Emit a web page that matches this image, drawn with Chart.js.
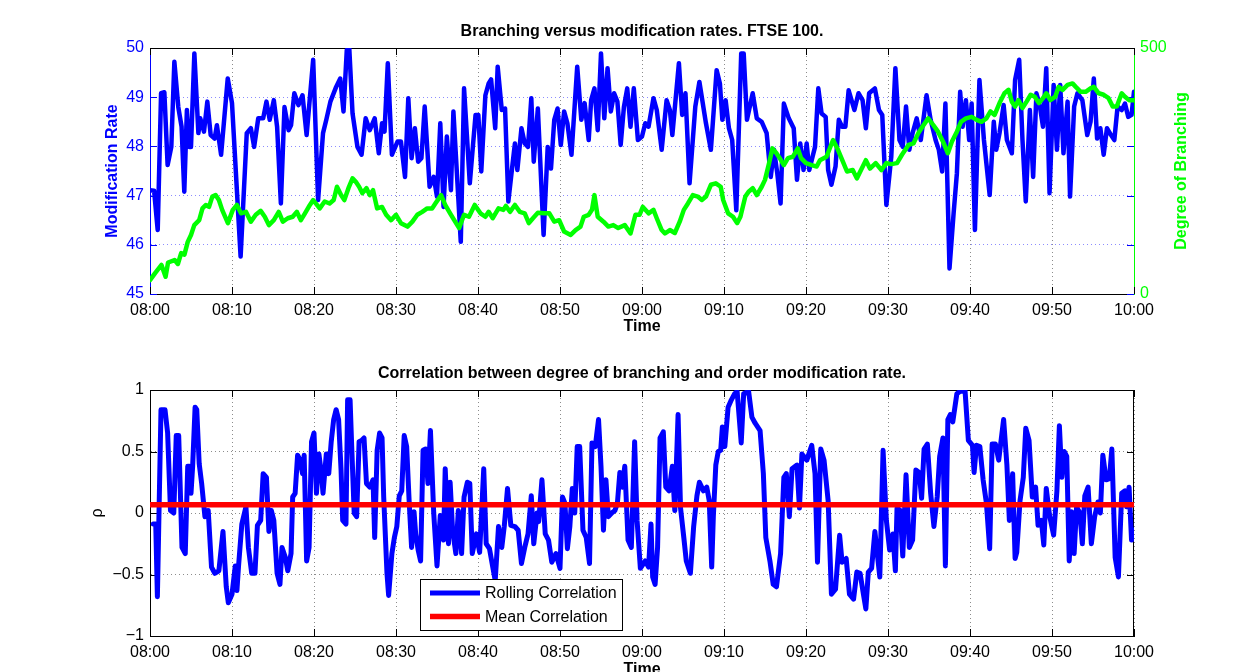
<!DOCTYPE html>
<html><head><meta charset="utf-8">
<script src="https://cdn.jsdelivr.net/npm/chart.js@4/dist/chart.umd.min.js"></script>
<style>
html,body{margin:0;padding:0;background:#fff;overflow:hidden;width:1234px;height:672px;position:relative}
#c1{position:absolute;left:0;top:0}
#c2{position:absolute;left:0;top:336px}
</style></head><body>
<canvas id="c1" width="1234" height="336"></canvas>
<canvas id="c2" width="1234" height="346"></canvas>
<script>
// ---------- DATA ----------
const xTickLabels = ['08:00','08:10','08:20','08:30','08:40','08:50','09:00','09:10','09:20','09:30','09:40','09:50','10:00'];

// Modification rate (minutes after 08:00, value)
const modT = [0,0.5,0.94,1.35,1.75,2.15,2.6,2.97,3.45,3.85,
 4.18,4.5,4.76,5.0,5.41,5.9,6.13,6.58,6.99,7.4,
 7.88,8.16,8.67,9.48,10.0,11.05,11.8,12.3,12.7,13.2,
 13.8,14.2,14.6,15.1,15.5,15.96,16.4,16.9,17.2,17.6,
 18.1,18.6,19.1,19.9,20.5,21.1,21.5,22.0,22.7,23.2,
 23.6,24.0,24.3,24.7,25.3,25.8,26.3,26.8,27.4,27.9,
 28.3,28.6,29.0,29.5,30.2,30.6,31.1,31.5,31.9,32.3,
 32.7,33.1,33.5,34.1,34.6,35.0,35.4,35.8,36.2,36.7,
 37.0,37.9,38.3,39.0,39.7,40.04,40.4,40.9,41.3,41.6,
 42.1,42.4,42.9,43.3,43.7,44.2,44.5,44.8,45.3,45.7,
 46.1,46.5,46.8,47.3,48.0,48.5,48.9,49.3,49.7,50.1,
 50.5,50.9,51.4,52.1,52.6,53.0,53.5,53.8,54.2,54.6,
 55.0,55.4,55.8,56.2,56.6,57.0,57.4,57.8,58.2,58.6,
 59.0,59.5,60.0,60.4,60.8,61.4,61.8,62.4,63.0,63.4,
 63.7,64.5,64.9,65.3,65.8,66.5,67.0,67.8,68.4,69.1,
 69.5,69.8,70.2,70.6,71.0,71.5,72.1,72.4,72.8,73.5,
 74.0,74.6,75.2,75.7,76.1,76.5,76.9,77.3,77.9,78.5,
 78.9,79.3,79.7,80.08,80.4,80.8,81.1,81.5,81.9,82.4,
 82.7,83.1,83.6,84.0,84.4,84.8,85.2,85.9,86.4,86.9,
 87.3,87.7,88.4,88.9,89.3,89.8,90.4,90.9,91.4,91.8,
 92.2,92.6,93.0,93.5,94.0,94.7,95.2,95.8,96.2,96.6,
 97.0,97.5,98.0,98.4,98.8,99.1,99.5,99.9,100.2,100.6,
 101.15,101.7,102.4,102.9,103.2,103.6,104.1,104.5,105.1,105.5,
 106.0,106.4,106.8,107.3,107.7,108.1,108.5,108.9,109.3,109.7,
 110.2,110.6,111.0,111.4,111.9,112.2,112.7,113.1,113.7,114.3,
 114.7,115.1,115.5,115.9,116.3,116.7,117.2,117.6,118.0,118.5,
 118.9,119.3,119.7,120.0];
const modV = [47.11,47.1,46.3,49.08,49.1,47.62,47.99,49.72,48.8,48.4,
 47.08,48.74,47.99,47.99,49.89,48.27,48.57,48.3,48.91,48.23,
 48.16,48.43,47.83,49.38,48.88,45.76,48.27,48.37,47.99,48.57,
 48.57,48.91,48.54,48.94,48.4,46.84,48.8,48.33,48.43,49.08,
 48.84,49.04,48.23,49.76,46.91,48.27,48.54,48.91,49.21,49.38,
 48.71,49.96,50.0,48.67,47.99,47.83,48.57,48.33,48.57,47.86,
 48.47,48.3,49.69,47.83,48.1,48.1,47.38,48.98,47.76,48.37,
 47.69,47.76,48.81,47.18,47.38,46.98,48.47,46.77,48.2,47.11,
 48.71,46.06,49.18,47.25,48.64,48.64,47.49,49.04,49.28,49.36,
 48.37,49.62,48.74,48.77,46.88,47.62,48.06,47.52,48.37,48.06,
 47.99,48.98,47.69,48.77,46.2,47.99,47.55,48.54,48.77,48.03,
 48.71,48.47,47.83,49.62,48.54,48.88,48.13,48.94,49.18,48.33,
 49.89,48.57,49.59,48.71,49.08,48.91,48.03,48.81,49.18,48.4,
 49.18,48.13,48.2,48.47,48.4,48.98,48.74,47.93,48.94,48.74,
 48.23,49.69,48.64,49.08,47.25,48.81,49.31,48.47,47.93,49.55,
 49.28,48.54,48.94,48.37,48.13,46.7,49.89,49.89,48.54,49.08,
 48.57,48.5,48.27,47.38,47.93,47.45,46.84,48.87,48.57,48.37,
 47.32,48.06,47.52,48.06,47.52,47.79,47.99,49.18,48.67,48.6,
 47.52,47.22,47.59,48.54,48.4,48.4,49.14,48.74,49.08,48.94,
 48.37,49.08,49.18,48.74,48.64,46.81,47.79,49.59,48.13,47.99,
 48.81,47.93,48.27,48.57,48.13,49.04,48.54,48.13,47.93,47.49,
 48.87,45.52,46.64,47.45,49.11,48.4,48.94,48.13,48.87,46.3,
 49.35,48.13,47.01,48.5,47.93,48.27,48.84,48.13,47.86,49.35,
 49.76,48.13,46.88,48.74,47.38,49.08,48.84,48.4,49.59,47.05,
 49.25,47.93,49.25,47.86,48.91,46.98,48.81,49.08,48.94,48.23,
 48.5,49.38,48.16,48.37,47.83,48.37,48.23,48.13,48.81,48.74,
 48.87,48.6,48.64,49.11];

// Degree of branching (minutes after 08:00, value)
const brT = [0,0.6,1.4,1.9,2.2,3.0,3.4,3.8,4.2,4.6,
 5.0,5.4,6.0,6.4,6.8,7.2,7.6,8.0,8.4,8.8,
 9.5,10.1,10.6,11.1,11.7,12.3,12.9,13.5,14.0,14.5,
 15.1,15.7,16.2,16.8,17.4,17.9,18.4,18.9,19.5,19.9,
 20.7,21.3,21.9,22.4,22.8,23.3,23.7,24.2,24.7,25.1,
 25.5,25.9,26.4,26.8,27.2,27.7,28.3,28.8,29.4,30.0,
 30.6,31.4,32.0,32.6,33.2,33.8,34.4,34.8,35.5,36.0,
 36.6,37.1,37.7,38.3,38.9,39.6,40.3,40.9,41.3,41.8,
 42.5,43.1,43.4,43.9,44.5,45.1,45.7,46.2,46.7,47.3,
 48.1,48.7,49.3,49.9,50.5,51.3,51.9,52.5,52.9,53.5,
 53.9,54.2,54.6,55.3,55.9,56.5,57.1,57.9,58.6,59.2,
 59.7,60.1,60.8,61.4,61.8,62.4,62.8,63.4,64.0,64.6,
 65.1,65.6,66.2,66.8,67.3,67.8,68.4,69.0,69.6,69.9,
 70.5,71.1,71.6,72.0,72.6,73.0,73.5,74.0,74.6,75.0,
 75.5,75.9,76.4,76.8,77.3,77.8,78.4,79.0,79.4,80.0,
 80.7,81.3,81.7,82.5,83.3,83.9,84.5,85.0,85.7,86.2,
 86.8,87.3,87.8,88.5,89.2,89.8,90.4,91.1,91.7,92.5,
 93.1,93.7,94.2,94.9,95.5,96.1,96.7,97.3,97.8,98.4,
 98.9,99.5,100.2,100.8,101.4,102.0,102.5,103.0,103.6,104.2,
 104.7,105.1,105.5,105.9,106.4,106.9,107.4,107.9,108.4,108.9,
 109.3,109.8,110.4,110.8,111.3,111.9,112.5,112.9,113.5,114.1,
 114.7,115.1,115.7,116.3,116.9,117.4,117.9,118.5,118.9,119.4,
 120.0];
const brV = [28,42,59,35,64,69,61,83,80,106,
 120,140,150,174,181,177,198,201,191,171,
 144,171,181,164,167,147,161,169,157,140,
 150,167,147,154,157,167,150,164,181,191,
 174,188,184,191,218,201,191,215,235,228,
 218,205,215,201,211,174,177,161,150,161,
 144,137,147,161,167,174,174,184,201,181,
 164,150,134,161,157,181,164,157,167,154,
 174,171,179,167,181,167,164,144,154,165,
 164,164,147,150,127,120,130,137,157,161,
 171,201,157,147,137,140,134,140,123,161,
 161,177,164,171,154,130,123,130,124,147,
 171,184,201,198,191,198,222,225,218,191,
 164,157,144,157,198,208,215,201,218,232,
 266,296,286,276,262,276,279,296,276,266,
 262,259,272,279,313,293,269,249,252,235,
 255,272,255,266,252,266,264,266,283,303,
 306,327,340,357,344,330,310,286,310,330,
 350,357,360,354,350,357,371,364,388,408,
 415,391,381,394,378,391,405,401,388,398,
 408,394,401,421,415,425,428,421,411,411,
 418,421,408,405,398,381,381,408,401,394,
 394];

// Rolling correlation (minutes after 08:00, rho)
const corrT = [0.4,0.7,0.9,1.34,1.83,2.15,2.5,2.9,3.2,3.5,
 3.9,4.3,4.6,4.8,5.0,5.2,5.5,5.7,6.0,6.3,
 6.7,7.1,7.5,7.9,8.4,8.9,9.3,9.55,10.0,10.4,
 10.6,10.8,11.2,11.7,12.0,12.4,12.8,13.1,13.5,13.8,
 14.2,14.5,14.8,15.1,15.5,15.85,16.1,16.5,16.8,17.2,
 17.4,17.7,18.0,18.3,18.6,18.8,19.1,19.4,19.7,20.0,
 20.3,20.6,20.9,21.1,21.5,21.8,22.1,22.4,22.7,23.0,
 23.3,23.5,23.9,24.1,24.4,24.6,24.9,25.2,25.5,25.8,
 26.1,26.4,26.8,27.2,27.4,27.7,28.0,28.3,28.5,28.9,
 29.1,29.5,29.8,30.1,30.4,30.7,31.0,31.3,31.6,31.9,
 32.2,32.4,32.7,33.0,33.3,33.6,33.9,34.2,34.6,35.0,
 35.4,35.8,36.0,36.4,36.6,36.9,37.3,37.6,38.0,38.3,
 38.7,39.0,39.3,39.8,40.2,40.7,41.0,41.4,41.8,42.1,
 42.5,42.9,43.2,43.6,44.0,44.5,44.9,45.3,45.7,46.1,
 46.5,46.8,47.2,47.4,47.8,48.2,48.6,49.0,49.5,50.0,
 50.3,50.6,50.9,51.2,51.5,51.8,52.1,52.4,52.8,53.2,
 53.6,53.9,54.3,54.7,55.0,55.3,55.6,55.9,56.3,56.7,
 57.0,57.3,57.6,57.9,58.3,58.7,59.1,59.4,59.8,60.4,
 60.8,61.1,61.3,61.6,61.9,62.2,62.6,62.9,63.3,63.7,
 64.0,64.4,64.7,65.1,65.4,65.9,66.3,66.7,67.0,67.5,
 67.9,68.2,68.5,68.7,69.0,69.3,69.6,69.8,70.1,70.5,
 70.9,71.3,71.6,72.1,72.4,73.0,73.4,73.8,74.4,74.8,
 75.1,75.6,76.0,76.4,76.9,77.3,77.6,77.97,78.3,78.9,
 79.2,79.5,80.1,80.7,81.1,81.4,81.8,82.2,82.7,83.1,
 83.6,84.1,84.4,84.9,85.3,85.8,86.2,86.6,87.0,87.3,
 87.6,88.0,88.4,89.0,89.4,89.8,90.2,90.6,90.9,91.1,
 91.5,91.8,92.2,92.6,93.0,93.4,93.8,94.1,94.4,94.8,
 95.2,95.6,96.0,96.3,96.7,97.0,97.3,97.6,97.9,98.4,
 98.8,99.4,99.8,100.3,100.5,100.8,101.2,101.6,102.0,102.4,
 102.7,103.1,103.5,104.1,104.5,104.8,105.2,105.5,105.7,106.1,
 106.5,106.8,107.2,107.6,108.0,108.3,108.7,109.0,109.3,109.7,
 110.2,110.6,110.9,111.2,111.5,111.8,112.1,112.4,112.7,113.0,
 113.4,113.7,114.0,114.4,114.8,115.2,115.6,115.9,116.2,116.6,
 117.0,117.3,117.7,118.1,118.5,118.9,119.1,119.4,119.7,120.0];
const corrV = [-0.09,-0.09,-0.68,0.84,0.84,0.65,0.02,0.0,0.63,0.63,
 -0.28,-0.33,0.38,0.38,0.16,0.38,0.86,0.84,0.40,0.24,
 -0.03,0.02,-0.44,-0.49,-0.47,-0.15,-0.60,-0.73,-0.66,-0.43,
 -0.63,-0.43,-0.09,0.05,-0.28,-0.49,-0.49,-0.10,-0.06,0.32,
 0.29,-0.15,0.02,-0.06,-0.49,-0.58,-0.28,-0.36,-0.47,-0.33,
 0.13,0.16,0.47,0.43,0.32,0.47,-0.39,-0.28,0.58,0.65,
 0.16,0.48,0.32,0.16,0.48,0.32,0.58,0.76,0.84,0.76,
 0.35,-0.06,-0.09,0.92,0.92,0.54,0.0,-0.03,0.58,0.59,
 0.61,0.24,0.21,0.27,-0.20,0.51,0.65,0.61,0.13,-0.49,
 -0.67,-0.33,-0.20,-0.11,0.14,0.18,0.63,0.54,0.10,-0.28,
 0.01,-0.17,-0.30,-0.39,0.51,0.52,0.24,0.67,0.0,-0.43,
 -0.02,-0.22,0.36,-0.25,0.25,-0.14,-0.33,0.02,-0.33,0.13,
 0.25,0.24,-0.33,-0.17,-0.32,0.36,-0.25,-0.29,-0.44,-0.55,
 -0.11,-0.28,-0.11,0.20,-0.10,-0.11,-0.14,-0.41,-0.28,-0.17,
 0.14,-0.25,0.0,-0.07,0.27,-0.17,-0.22,-0.40,-0.33,-0.45,
 0.13,0.08,-0.29,-0.11,0.20,0.0,0.54,0.54,-0.14,-0.20,
 -0.41,0.57,0.54,0.76,0.38,-0.14,0.27,-0.03,0.0,0.02,
 0.08,0.33,0.21,0.38,-0.22,-0.28,0.58,-0.06,-0.45,-0.39,
 -0.44,-0.09,-0.52,-0.58,-0.28,0.61,0.66,0.21,0.18,0.38,
 0.02,0.80,0.04,-0.20,-0.39,-0.49,-0.11,0.14,0.25,0.18,
 0.21,0.10,-0.44,-0.03,0.39,0.50,0.51,0.70,0.54,0.86,
 0.92,0.97,0.99,0.57,0.97,0.99,0.78,0.73,0.67,0.32,
 -0.20,-0.39,-0.58,-0.60,-0.33,0.29,0.32,-0.03,0.36,0.39,
 0.04,0.48,0.43,0.55,0.32,-0.40,0.52,0.43,0.10,-0.66,
 -0.62,-0.18,-0.40,-0.37,-0.66,-0.70,-0.48,-0.49,-0.66,-0.78,
 -0.48,-0.45,-0.15,-0.52,0.51,-0.06,-0.30,-0.17,-0.47,0.04,
 0.02,-0.35,0.31,-0.28,-0.22,0.35,0.33,0.12,0.52,0.56,
 0.16,-0.11,0.13,0.46,0.61,-0.43,0.76,0.80,0.74,0.97,
 0.99,0.99,0.59,0.55,0.33,0.55,0.54,0.27,0.08,-0.29,
 0.56,0.56,0.43,0.76,0.39,-0.06,0.32,-0.37,-0.32,0.10,
 0.29,0.69,0.59,0.13,0.21,-0.10,-0.06,-0.26,0.20,-0.02,
 -0.18,0.18,0.71,0.29,0.50,0.46,-0.39,0.01,-0.33,0.05,
 0.0,-0.25,0.14,0.21,-0.25,-0.03,0.09,0.0,0.47,0.27,
 0.28,0.52,-0.36,-0.52,0.16,0.18,0.05,0.21,-0.22,-0.14];

const meanCorrT = [0, 120];
const meanCorrV = [0.068, 0.068];

// ---------- RENDER ----------
const FONT = "'Liberation Sans', Arial, Helvetica, sans-serif";
Chart.defaults.font.family = FONT;
Chart.defaults.font.size = 16;
Chart.defaults.color = '#000';
const pts = (t, v) => t.map((x, i) => ({x: x, y: v[i]}));
const BLUE = '#0000ff', GREEN = '#00ff00', RED = '#ff0000';
const timeLabel = v => xTickLabels[Math.round(v / 10)];

const boxPlugin = {
  id: 'box',
  beforeDatasetsDraw(chart, args, o) {
    const {ctx, chartArea: a} = chart;
    ctx.save();
    ctx.lineWidth = 1;
    (o.ticks || []).forEach(sp => {
      const s = chart.scales[sp.id];
      ctx.strokeStyle = sp.color;
      ctx.beginPath();
      s.ticks.forEach(t => {
        const p = Math.round(s.getPixelForValue(t.value)) + 0.5;
        if (s.isHorizontal()) {
          ctx.moveTo(p, a.bottom); ctx.lineTo(p, a.bottom - sp.len);
          ctx.moveTo(p, a.top); ctx.lineTo(p, a.top + sp.len);
        } else {
          ctx.moveTo(a.left, p); ctx.lineTo(a.left + sp.len, p);
          ctx.moveTo(a.right, p); ctx.lineTo(a.right - sp.len, p);
        }
      });
      ctx.stroke();
    });
    (o.edges || []).forEach(e => {
      ctx.strokeStyle = e.color;
      ctx.beginPath();
      if (e.side === 'top') { const y = Math.round(a.top) + 0.5; ctx.moveTo(a.left, y); ctx.lineTo(a.right, y); }
      if (e.side === 'right') { const x = Math.round(a.right) - 0.5; ctx.moveTo(x, a.top); ctx.lineTo(x, a.bottom); }
      ctx.stroke();
    });
    ctx.restore();
  }
};

const sideTitlePlugin = {
  id: 'sideTitle',
  afterDraw(chart, args, o) {
    if (!o.text) return;
    const {ctx, chartArea: a} = chart;
    ctx.save();
    ctx.translate(o.x, (a.top + a.bottom) / 2);
    ctx.rotate(-Math.PI / 2);
    ctx.font = 'bold 16px ' + FONT;
    ctx.fillStyle = o.color;
    ctx.textAlign = 'center';
    ctx.textBaseline = 'middle';
    ctx.fillText(o.text, 0, 0);
    ctx.restore();
  }
};

const boxLegendPlugin = {
  id: 'boxLegend',
  afterDraw(chart, args, o) {
    if (!o.box) return;
    const {ctx} = chart;
    const b = o.box;
    ctx.save();
    ctx.fillStyle = '#fff';
    ctx.fillRect(b.x, b.y, b.w, b.h);
    ctx.strokeStyle = '#000';
    ctx.lineWidth = 1;
    ctx.strokeRect(b.x + 0.5, b.y + 0.5, b.w, b.h);
    ctx.font = '16px ' + FONT;
    ctx.textBaseline = 'middle';
    ctx.textAlign = 'left';
    chart.data.datasets.forEach((ds, i) => {
      const y = b.y + b.rowTop + i * b.rowGap;
      ctx.strokeStyle = ds.borderColor;
      ctx.lineWidth = ds.borderWidth;
      ctx.beginPath();
      ctx.moveTo(b.x + 10, y); ctx.lineTo(b.x + 60, y);
      ctx.stroke();
      ctx.fillStyle = '#000';
      ctx.fillText(ds.label, b.x + 65, y + 1);
    });
    ctx.restore();
  }
};

const xAxis = (h, titlePadBottom) => ({
  type: 'linear', position: 'bottom', min: 0, max: 120,
  afterFit(s) { s.height = h; },
  ticks: {stepSize: 10, autoSkip: false, maxRotation: 0, padding: 6.5, color: '#000', font: {size: 16}, callback: timeLabel},
  grid: {color: 'rgba(0,0,0,0.45)', lineWidth: 1, drawTicks: false},
  border: {color: '#000', width: 1, dash: [1, 3]},
  title: {display: true, text: 'Time', color: '#000', font: {size: 16, weight: 'bold'}, padding: {top: 0, bottom: titlePadBottom}}
});

new Chart(document.getElementById('c1'), {
  type: 'line',
  data: {datasets: [
    {label: 'Modification Rate', data: pts(modT, modV), yAxisID: 'y', borderColor: BLUE, borderWidth: 4.5,
     pointRadius: 0, tension: 0, borderJoinStyle: 'round', borderCapStyle: 'round', order: 1},
    {label: 'Degree of Branching', data: pts(brT, brV), yAxisID: 'y1', borderColor: GREEN, borderWidth: 4.5,
     pointRadius: 0, tension: 0, borderJoinStyle: 'round', borderCapStyle: 'round', order: 0}
  ]},
  options: {
    responsive: false, animation: false, events: [],
    layout: {padding: {left: 50, right: 0, top: 0, bottom: 0}},
    plugins: {
      legend: {display: false}, tooltip: {enabled: false},
      title: {display: true, text: 'Branching versus modification rates. FTSE 100.', color: '#000',
              font: {size: 16, weight: 'bold'}, padding: {top: 22.4, bottom: 6.4}},
      box: {ticks: [{id: 'x', color: '#000', len: 7}, {id: 'y', color: BLUE, len: 7}], edges: [{side: 'top', color: '#000'}]},
      sideTitle: {text: 'Degree of Branching', color: GREEN, x: 1182}
    },
    scales: {
      x: xAxis(42, 0),
      y: {
        type: 'linear', position: 'left', min: 45, max: 50,
        afterFit(s) { s.width = 100; },
        ticks: {stepSize: 1, padding: 6, color: BLUE, font: {size: 16}},
        grid: {color: 'rgba(0,0,255,0.45)', lineWidth: 1, drawTicks: false},
        border: {color: BLUE, width: 1, dash: [1, 3]},
        title: {display: true, text: 'Modification Rate', color: BLUE, font: {size: 16, weight: 'bold'}, padding: {top: 52.5, bottom: 0}}
      },
      y1: {
        type: 'linear', position: 'right', min: 0, max: 500,
        afterFit(s) { s.width = 100; },
        ticks: {stepSize: 100, padding: 6, color: GREEN, font: {size: 16},
                callback: v => (v === 0 || v === 500) ? String(v) : ''},
        grid: {drawOnChartArea: false, drawTicks: false},
        border: {color: GREEN, width: 1}
      }
    }
  },
  plugins: [boxPlugin, sideTitlePlugin]
});

new Chart(document.getElementById('c2'), {
  type: 'line',
  data: {datasets: [
    {label: 'Rolling Correlation', data: pts(corrT, corrV), borderColor: BLUE, borderWidth: 5,
     pointRadius: 0, tension: 0, borderJoinStyle: 'round', borderCapStyle: 'round', order: 1},
    {label: 'Mean Correlation', data: pts(meanCorrT, meanCorrV), borderColor: RED, borderWidth: 5.5,
     pointRadius: 0, tension: 0, order: 0}
  ]},
  options: {
    responsive: false, animation: false, events: [],
    layout: {padding: {left: 50, right: 0, top: 0, bottom: 0}},
    plugins: {
      legend: {display: false}, tooltip: {enabled: false},
      title: {display: true, text: 'Correlation between degree of branching and order modification rate.', color: '#000',
              font: {size: 16, weight: 'bold'}, padding: {top: 28.4, bottom: 6.4}},
      box: {ticks: [{id: 'x', color: '#000', len: 7}, {id: 'y', color: '#000', len: 7}],
            edges: [{side: 'top', color: '#000'}, {side: 'right', color: '#000'}]},
      boxLegend: {box: {x: 420, y: 243, w: 202, h: 51, rowTop: 14, rowGap: 23.5}}
    },
    scales: {
      x: xAxis(46, 2.4),
      y: {
        type: 'linear', position: 'left', min: -1, max: 1,
        afterFit(s) { s.width = 100; },
        ticks: {stepSize: 0.5, padding: 6, color: '#000', font: {size: 16},
                callback: v => String(v).replace('-', '\u2212')},
        grid: {color: 'rgba(0,0,0,0.45)', lineWidth: 1, drawTicks: false},
        border: {color: '#000', width: 1, dash: [1, 3]},
        title: {display: true, text: 'ρ', color: '#000', font: {size: 16, weight: 'normal'}, padding: {top: 38.4, bottom: 0}}
      },
      yr: {
        type: 'linear', position: 'right', min: 0, max: 1,
        afterFit(s) { s.width = 100; },
        ticks: {display: false},
        grid: {display: false, drawTicks: false},
        border: {display: false}
      }
    }
  },
  plugins: [boxPlugin, boxLegendPlugin]
});
</script>
</body></html>
